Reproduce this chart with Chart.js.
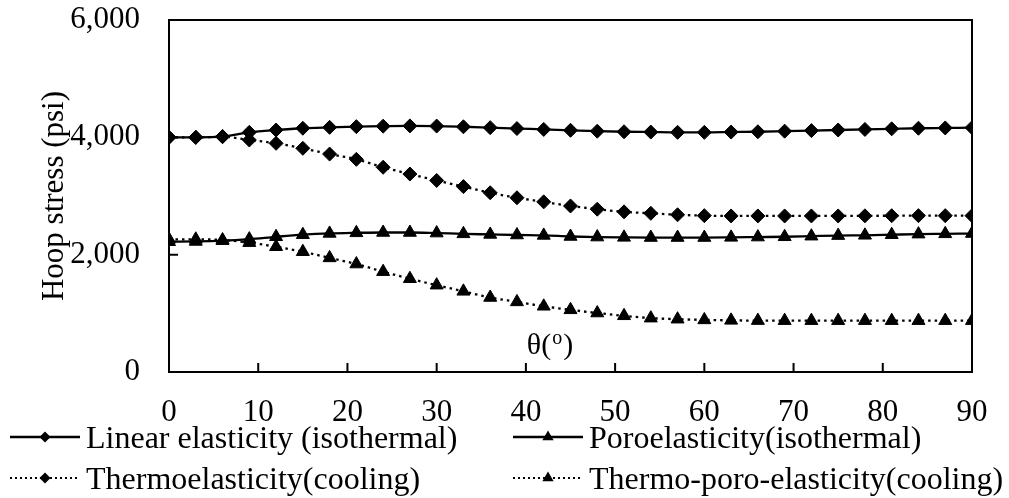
<!DOCTYPE html>
<html><head><meta charset="utf-8">
<script src="https://cdn.jsdelivr.net/npm/chart.js@4/dist/chart.umd.min.js"></script>
<style>
html,body{margin:0;padding:0;background:#fff;}
#wrap{position:relative;width:1009px;height:498px;overflow:hidden;}
#c{position:absolute;left:0;top:0;}
.leg{position:absolute;display:flex;align-items:center;font-family:"Liberation Serif","Times New Roman",serif;font-size:32px;color:#000;white-space:nowrap;height:40px;line-height:40px;}
.leg canvas{margin-right:6px;}
</style></head>
<body><div id="wrap"><canvas id="c" width="1009" height="498"></canvas></div>
<script>
// ---- data ----
const angles = [0,3,6,9,12,15,18,21,24,27,30,33,36,39,42,45,48,51,54,57,60,63,66,69,72,75,78,81,84,87,90];
const linearElasticity = [4000,4000,4015,4085,4125,4155,4170,4182,4190,4195,4192,4180,4165,4150,4135,4120,4105,4095,4090,4085,4085,4090,4095,4105,4115,4125,4135,4145,4155,4160,4165];
const poroelasticity = [2220,2225,2238,2265,2305,2340,2362,2372,2378,2378,2368,2355,2345,2335,2328,2310,2300,2295,2292,2292,2292,2295,2300,2305,2315,2325,2330,2340,2350,2355,2360];
const thermoelasticity = [4000,4000,4010,3955,3898,3813,3715,3625,3490,3375,3265,3160,3055,2970,2900,2830,2775,2730,2705,2680,2665,2660,2660,2660,2660,2660,2662,2664,2665,2665,2665];
const thermoPoroElasticity = [2262,2262,2250,2205,2135,2050,1945,1840,1710,1590,1480,1375,1270,1195,1120,1060,1005,958,918,900,888,880,876,875,875,875,875,875,875,875,875];
const seriesNames = ["Linear elasticity (isothermal)","Poroelasticity(isothermal)","Thermoelasticity(cooling)","Thermo-poro-elasticity(cooling)"];
const xTickValues = [0,10,20,30,40,50,60,70,80,90];
const yTickValues = [0,2000,4000,6000];
const yTitle = "Hoop stress (psi)";
const xTitleMain = "θ(";
const xTitleSup = "o";
const xTitleEnd = ")";

const FONT = '"Liberation Serif","Times New Roman",serif';
const styles = [
  {pt:'rectRot', r:7, dash:[]},
  {pt:'triangle', r:7.5, dash:[]},
  {pt:'rectRot', r:7, dash:[2.5,4]},
  {pt:'triangle', r:7.5, dash:[2.5,4]}
];
const seriesValues = [linearElasticity, poroelasticity, thermoelasticity, thermoPoroElasticity];
const order = [0,2,1,3];

const datasets = order.map(i => ({
  label: seriesNames[i],
  data: angles.map((a,k)=>({x:a, y:seriesValues[i][k]})),
  borderColor:'#000', backgroundColor:'#000',
  borderWidth:2.3, borderDash:styles[i].dash,
  pointStyle:styles[i].pt, pointRadius:styles[i].r,
  pointBackgroundColor:'#000', pointBorderColor:'#000', pointBorderWidth:1,
  cubicInterpolationMode:'monotone'
}));

const framePlugin = {
  id:'frame',
  afterDatasetsDraw(chart){
    const {ctx, chartArea:a, scales} = chart;
    ctx.save();
    ctx.strokeStyle='#000'; ctx.lineWidth=2; ctx.setLineDash([]);
    ctx.strokeRect(a.left, a.top, a.right-a.left, a.bottom-a.top);
    ctx.beginPath();
    scales.x.ticks.forEach(t=>{const px=scales.x.getPixelForValue(t.value); ctx.moveTo(px,a.bottom); ctx.lineTo(px,a.bottom-9);});
    scales.y.ticks.forEach(t=>{const py=scales.y.getPixelForValue(t.value); ctx.moveTo(a.left,py); ctx.lineTo(a.left+9,py);});
    ctx.stroke();
    // x-axis title drawn inside plot as in the reference
    const x0 = scales.x.getPixelForValue(40.1);
    const y0 = scales.y.getPixelForValue(300);
    ctx.fillStyle='#000'; ctx.textBaseline='alphabetic'; ctx.textAlign='left';
    ctx.font = '30px '+FONT;
    ctx.fillText(xTitleMain, x0, y0);
    let w = ctx.measureText(xTitleMain).width;
    ctx.font = '20px '+FONT;
    ctx.fillText(xTitleSup, x0+w+1, y0-10);
    w += ctx.measureText(xTitleSup).width+2;
    ctx.font = '30px '+FONT;
    ctx.fillText(xTitleEnd, x0+w, y0);
    ctx.restore();
  }
};

new Chart(document.getElementById('c'), {
  type:'line',
  data:{datasets},
  options:{
    responsive:false, animation:false, devicePixelRatio:1,
    layout:{padding:{left:0,right:37,top:20,bottom:76}},
    plugins:{legend:{display:false}, tooltip:{enabled:false}},
    scales:{
      x:{type:'linear', min:0, max:90,
        afterBuildTicks(s){ s.ticks = xTickValues.map(v=>({value:v})); },
        afterFit(s){ s.height = 50; s.paddingLeft=0; s.paddingRight=0; },
        grid:{display:false, drawTicks:false},
        border:{display:true,color:'#000',width:2},
        ticks:{color:'#000', font:{family:FONT,size:31}, padding:22, maxRotation:0}
      },
      y:{type:'linear', min:0, max:6000,
        afterBuildTicks(s){ s.ticks = yTickValues.map(v=>({value:v})); },
        afterFit(s){ s.width = 169; s.paddingTop=0; s.paddingBottom=0; },
        grid:{display:false, drawTicks:false},
        border:{display:true,color:'#000',width:2},
        ticks:{color:'#000', font:{family:FONT,size:31}, padding:29,
          callback:v=>v.toLocaleString('en-US')},
        title:{display:true, text:yTitle, color:'#000', font:{family:FONT,size:31}, padding:{top:36,bottom:0}}
      }
    }
  },
  plugins:[framePlugin]
});

// ---- legend (HTML text with drawn line+marker samples) ----
const legPos = [
  {left:10, cy:437},{left:513, cy:437},{left:10, cy:478},{left:513, cy:478}
];
const wrap = document.getElementById('wrap');
[0,1,2,3].forEach(i=>{
  const d = document.createElement('div');
  d.className='leg';
  d.style.left = legPos[i].left+'px';
  d.style.top = (legPos[i].cy-20)+'px';
  const cv = document.createElement('canvas');
  cv.width=70; cv.height=20;
  const c = cv.getContext('2d');
  c.strokeStyle='#000'; c.fillStyle='#000';
  c.lineWidth = styles[i].dash.length? 1.8 : 2.3;
  c.setLineDash(styles[i].dash.length? [2,3] : []);
  c.beginPath(); c.moveTo(0,10); c.lineTo(70,10); c.stroke();
  c.setLineDash([]);
  c.beginPath();
  if(styles[i].pt==='rectRot'){ const r=5.5; c.moveTo(35,10-r); c.lineTo(35+r,10); c.lineTo(35,10+r); c.lineTo(35-r,10); }
  else { const r=6.5; c.moveTo(35,10-r); c.lineTo(35+r*0.866,10+r/2); c.lineTo(35-r*0.866,10+r/2); }
  c.closePath(); c.fill();
  d.appendChild(cv);
  const s = document.createElement('span'); s.textContent = seriesNames[i];
  d.appendChild(s);
  wrap.appendChild(d);
});
</script>
</body></html>
